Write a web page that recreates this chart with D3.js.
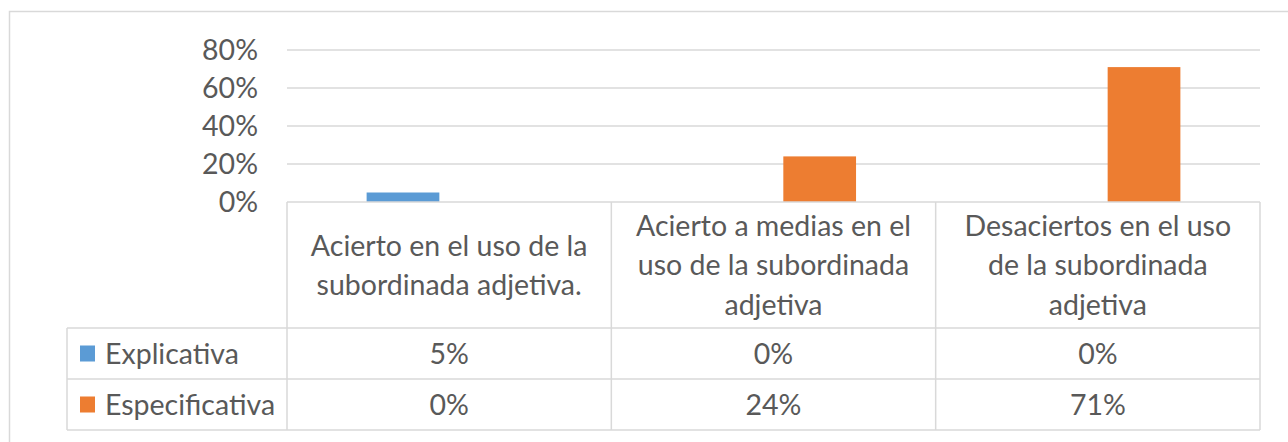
<!DOCTYPE html>
<html>
<head>
<meta charset="utf-8">
<script src="https://cdn.jsdelivr.net/npm/d3@7"></script>
<style>
  html, body { margin: 0; padding: 0; background: #fff; }
  svg { display: block; }
  text { font-family: Lato, "Open Sans", sans-serif; fill: #595959; }
</style>
</head>
<body>
<svg id="chart" width="1288" height="442"></svg>
<script>
// ---- data ----
const categories = [
  "Acierto en el uso de la\nsubordinada adjetiva.",
  "Acierto a medias en el\nuso de la subordinada\nadjetiva",
  "Desaciertos en el uso\nde la subordinada\nadjetiva"
];
const seriesNames = ["Explicativa", "Especificativa"];
const explicativa = [0.05, 0.00, 0.00];
const especificativa = [0.00, 0.24, 0.71];
const yTicks = [0, 0.2, 0.4, 0.6, 0.8];
const seriesColors = ["#5b9bd5", "#ed7d31"];

// ---- layout ----
const svg = d3.select("#chart");
const plotLeft = 287, plotRight = 1260, plotTop = 50, plotBottom = 202;
const tableLeft = 67, headerBottom = 328, row1Bottom = 379, tableBottom = 430;
const fontSize = 28.5;
const grid = "#d9d9d9";

const values = [explicativa, especificativa];

const x = d3.scaleBand().domain(d3.range(categories.length)).range([plotLeft, plotRight]).paddingInner(0).paddingOuter(0);
const xs = d3.scaleBand().domain(d3.range(seriesNames.length)).range([0, x.bandwidth()])
  .paddingInner(0.27 / 1.27).paddingOuter(0.862);
const y = d3.scaleLinear().domain([0, 0.8]).range([plotBottom, plotTop]);

// outer border
svg.append("rect").attr("x", 9.5).attr("y", 11.5).attr("width", 1400).attr("height", 600)
  .attr("fill", "none").attr("stroke", grid).attr("stroke-width", 1.5);

// gridlines
svg.append("g").selectAll("line").data(yTicks.filter(t => t > 0)).join("line")
  .attr("x1", plotLeft).attr("x2", plotRight)
  .attr("y1", d => y(d)).attr("y2", d => y(d))
  .attr("stroke", grid).attr("stroke-width", 1.5);

// y axis labels
const fmt = d3.format(".0%");
svg.append("g").selectAll("text").data(yTicks).join("text")
  .attr("x", 258).attr("y", d => y(d)).attr("dy", "0.36em")
  .attr("text-anchor", "end").attr("font-size", fontSize)
  .text(d => fmt(d));

// bars
seriesNames.forEach((s, si) => {
  svg.append("g").selectAll("rect").data(values[si]).join("rect")
    .attr("x", (d, i) => x(i) + xs(si))
    .attr("width", xs.bandwidth())
    .attr("y", d => y(d))
    .attr("height", d => y(0) - y(d))
    .attr("fill", seriesColors[si]);
});

// data table lines
const tg = svg.append("g").attr("stroke", grid).attr("stroke-width", 1.5).attr("fill", "none");
tg.append("line").attr("x1", plotLeft).attr("x2", plotRight).attr("y1", plotBottom).attr("y2", plotBottom);
[headerBottom, row1Bottom, tableBottom].forEach(yy =>
  tg.append("line").attr("x1", tableLeft).attr("x2", plotRight).attr("y1", yy).attr("y2", yy));
tg.append("line").attr("x1", tableLeft).attr("x2", tableLeft).attr("y1", headerBottom).attr("y2", tableBottom);
d3.range(categories.length + 1).forEach(i => {
  const xx = i < categories.length ? x(i) : plotRight;
  tg.append("line").attr("x1", xx).attr("x2", xx).attr("y1", plotBottom).attr("y2", tableBottom);
});

// header labels
const lineH = 39.5;
const headerMid = (plotBottom + headerBottom) / 2;
categories.forEach((c, i) => {
  const lines = c.split("\n");
  const t = svg.append("text").attr("text-anchor", "middle").attr("font-size", fontSize);
  lines.forEach((ln, li) => {
    t.append("tspan").attr("x", x(i) + x.bandwidth() / 2)
      .attr("y", headerMid + (li - (lines.length - 1) / 2) * lineH)
      .attr("dy", "0.36em").text(ln);
  });
});

// rows
const rowMids = [(headerBottom + row1Bottom) / 2, (row1Bottom + tableBottom) / 2];
seriesNames.forEach((s, si) => {
  svg.append("rect").attr("x", 80).attr("y", rowMids[si] - 8).attr("width", 15).attr("height", 16)
    .attr("fill", seriesColors[si]);
  svg.append("text").attr("x", 105).attr("y", rowMids[si]).attr("dy", "0.36em")
    .attr("font-size", fontSize).text(s);
  svg.append("g").selectAll("text").data(values[si]).join("text")
    .attr("x", (d, i) => x(i) + x.bandwidth() / 2)
    .attr("y", rowMids[si]).attr("dy", "0.36em")
    .attr("text-anchor", "middle").attr("font-size", fontSize)
    .text(d => fmt(d));
});
</script>
</body>
</html>
